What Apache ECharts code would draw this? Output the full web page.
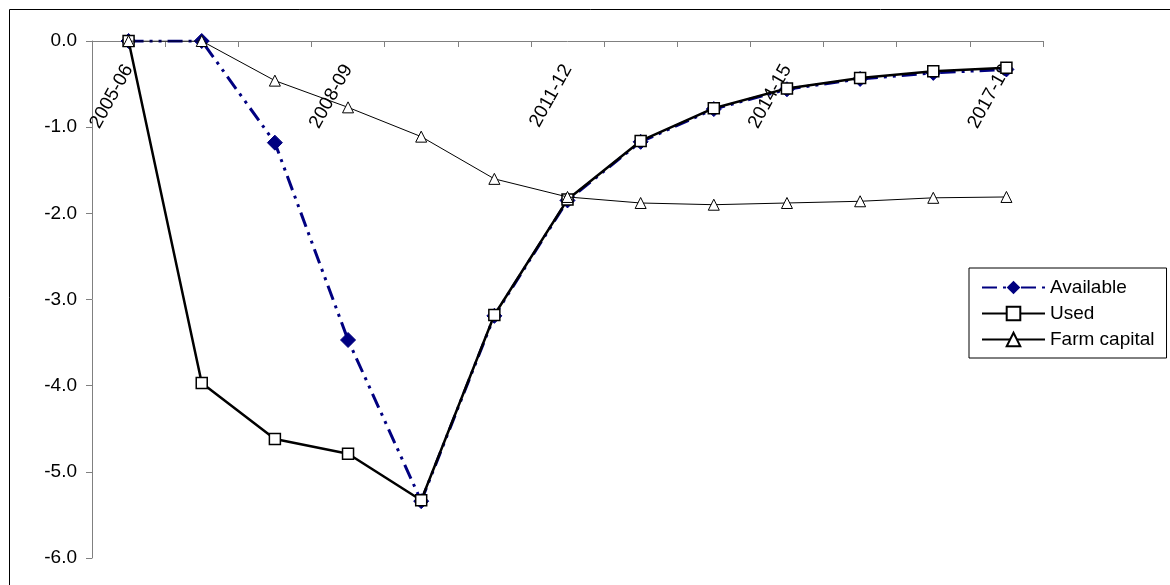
<!DOCTYPE html>
<html>
<head>
<meta charset="utf-8">
<script src="https://cdn.jsdelivr.net/npm/echarts@6/dist/echarts.min.js"></script>
<style>
html,body{margin:0;padding:0;background:#fff;}
#chart{width:1170px;height:585px;}
</style>
</head>
<body>
<div id="chart"></div>
<script>
var categories = ['2005-06','2006-07','2007-08','2008-09','2009-10','2010-11','2011-12','2012-13','2013-14','2014-15','2015-16','2016-17','2017-18'];
var available = [0, 0, -1.18, -3.47, -5.34, -3.19, -1.85, -1.17, -0.79, -0.56, -0.44, -0.37, -0.33];
var used = [0, -3.97, -4.62, -4.79, -5.33, -3.18, -1.84, -1.16, -0.78, -0.55, -0.43, -0.35, -0.31];
var farmCapital = [0, 0, -0.46, -0.77, -1.11, -1.60, -1.81, -1.88, -1.90, -1.88, -1.86, -1.82, -1.81];
var yTicks = [-6, -5, -4, -3, -2, -1, 0];

var FONT = '"Liberation Sans", Arial, sans-serif';
var chart = echarts.init(document.getElementById('chart'));
chart.setOption({
  animation: false,
  backgroundColor: '#fff',
  textStyle: {fontFamily: FONT},
  grid: {left: 92, right: 127, top: 41, bottom: 27, containLabel: false, outerBoundsMode: 'none'},
  graphic: [{
    type: 'rect', silent: true,
    shape: {x: 9.5, y: 9.5, width: 1200, height: 600},
    style: {fill: 'none', stroke: '#000', lineWidth: 1}
  }],
  legend: {
    orient: 'vertical',
    left: 969, top: 268,
    padding: [10, 12, 9, 12],
    itemWidth: 63, itemHeight: 17, itemGap: 7,
    borderColor: '#000', borderWidth: 1,
    backgroundColor: '#fff',
    textStyle: {fontFamily: FONT, fontSize: 19, color: '#000'},
    data: ['Available', 'Used', 'Farm capital']
  },
  xAxis: {
    type: 'category',
    position: 'top',
    data: categories,
    boundaryGap: true,
    axisLine: {onZero: false, lineStyle: {color: '#808080', width: 1}},
    axisTick: {show: true, inside: true, interval: 0, length: 6, lineStyle: {color: '#808080'}},
    axisLabel: {inside: true, interval: 2, rotate: -61, margin: 25, color: '#000', fontSize: 19, fontFamily: FONT},
    splitLine: {show: false}
  },
  yAxis: {
    type: 'value',
    min: yTicks[0], max: yTicks[yTicks.length - 1], interval: 1,
    axisLine: {show: true, onZero: false, lineStyle: {color: '#808080', width: 1}},
    axisTick: {show: true, length: 6, lineStyle: {color: '#808080'}},
    axisLabel: {margin: 15, color: '#000', fontSize: 19, fontFamily: FONT,
      formatter: function (v) { return v.toFixed(1); }},
    splitLine: {show: false}
  },
  series: [
    {
      name: 'Available', type: 'line', data: available,
      symbol: 'diamond', symbolSize: 15,
      itemStyle: {color: '#000080', borderColor: '#000080'},
      lineStyle: {color: '#000080', width: 3, type: [15, 6, 3, 6, 3, 6]},
      z: 2
    },
    {
      name: 'Used', type: 'line', data: used,
      symbol: 'rect', symbolSize: 11,
      itemStyle: {color: '#fff', borderColor: '#000', borderWidth: 1.5},
      lineStyle: {color: '#000', width: 2.5},
      z: 3
    },
    {
      name: 'Farm capital', type: 'line', data: farmCapital,
      symbol: 'triangle', symbolSize: 11,
      itemStyle: {color: '#fff', borderColor: '#000', borderWidth: 1},
      lineStyle: {color: '#000', width: 1},
      z: 4
    }
  ]
});
</script>
</body>
</html>
